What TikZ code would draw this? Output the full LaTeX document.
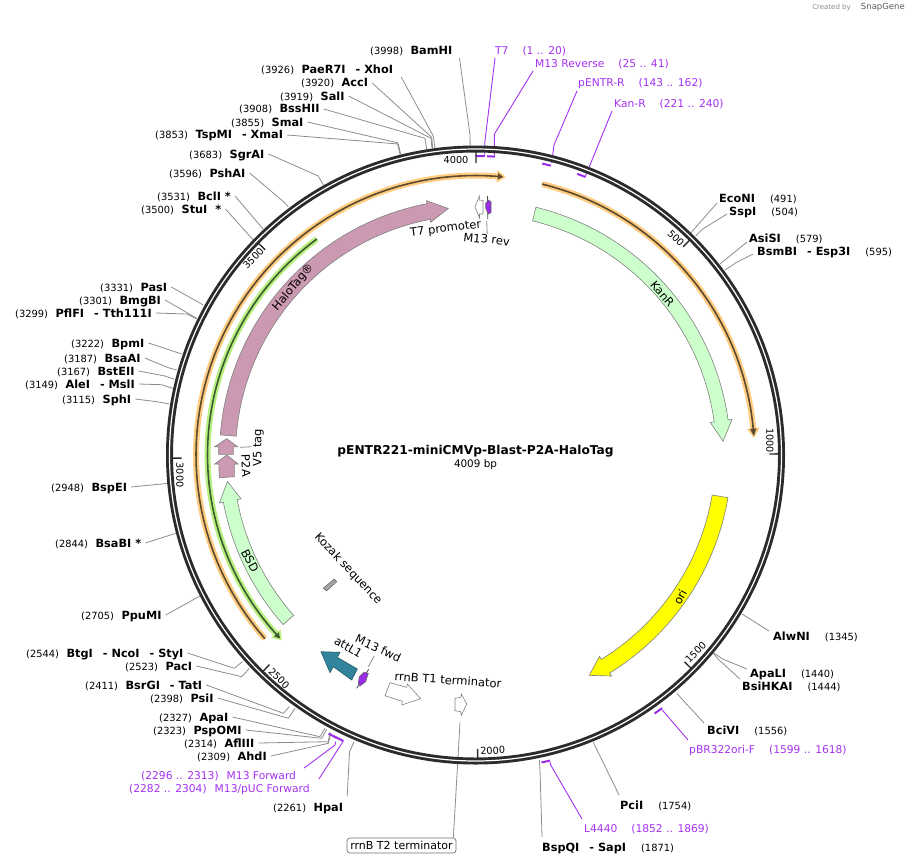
\documentclass[tikz,border=0pt]{standalone}
\usepackage{fontspec}
\setmainfont{DejaVu Sans}
\usetikzlibrary{calc}
\definecolor{ringc}{HTML}{2B2B2B}
\definecolor{cutc}{HTML}{8C8C8C}
\definecolor{primc}{HTML}{A531F2}
\definecolor{barc}{HTML}{9A2BE8}
\definecolor{kanc}{HTML}{CCFFCC}
\definecolor{haloc}{HTML}{CC99B2}
\definecolor{attc}{HTML}{31849B}
\definecolor{orangeh}{HTML}{FFCC80}
\definecolor{orangec}{HTML}{5A4A30}
\definecolor{greenh}{HTML}{B8F080}
\definecolor{greenc}{HTML}{3F5A30}
\definecolor{orifill}{HTML}{FFFF00}
\newcommand\cx{475.5}
\newcommand\cy{455}
\newcommand\rp[2]{({\cx+(#2)*sin(#1)},{\cy-(#2)*cos(#1)})}
\newcommand\pp[2]{\rp{(#1)*0.0898}{#2}}
\newcommand\bd[1]{{\fontsize{11.3}{12}\selectfont\bfseries #1}}
% style, start angle, head base angle, tip angle, mid radius, body half, head half
\newcommand\featarrow[7]{%
  \draw[#1] plot[domain=#2:#3,samples=60] ({\cx+(#5+#6)*sin(\x)},{\cy-(#5+#6)*cos(\x)})
    -- \rp{#3}{#5+#7} -- \rp{#4}{#5} -- \rp{#3}{#5-#7}
    -- plot[domain=#3:#2,samples=60] ({\cx+(#5-#6)*sin(\x)},{\cy-(#5-#6)*cos(\x)}) -- cycle;}
\newcommand\enzl[5]{\node[lab,anchor=west] (#1) at ({#2-4},#3) {(#4)\hspace{7.5pt}\bd{#5}};}
\newcommand\enzr[5]{\node[lab,anchor=west] (#1) at ({#2-4},#3) {\bd{#5}\hspace{15pt}(#4)};}
\newcommand\priml[5]{\node[plab,anchor=west] (#1) at ({#2-4},#3) {(#4)\hspace{8pt}#5};}
\newcommand\primr[5]{\node[plab,anchor=west] (#1) at ({#2-4},#3) {#5\hspace{14pt}(#4)};}
\newcommand\dsh[2]{#1\hspace{10pt}- #2}
\tikzset{
  lab/.style={inner xsep=4pt,inner ysep=0pt,text height=10pt,text depth=2pt,font=\fontsize{9.9}{12}\selectfont,text=black},
  plab/.style={inner xsep=4pt,inner ysep=0pt,text height=10pt,text depth=2pt,font=\fontsize{10.7}{12}\selectfont,text=primc},
  flab/.style={inner sep=0pt,font=\fontsize{11.5}{13}\selectfont,text=black},
  tlab/.style={inner sep=0pt,font=\fontsize{9.7}{12}\selectfont,text=black},
  cut/.style={draw=cutc,line width=0.8pt,line join=round},
  pcut/.style={draw=primc,line width=0.9pt,line join=round},
  pbar/.style={draw=barc,line width=2pt},
  tick/.style={draw=ringc,line width=1.4pt},
  feat/.style={draw=black!50,line width=0.6pt,line join=miter},
}
\begin{document}
\begin{tikzpicture}[x=1pt,y=-1pt]
\useasboundingbox (0,0) rectangle (909,864);
\coordinate (c) at (\cx,\cy);
\node[anchor=east,inner sep=0pt,font=\fontsize{7}{8}\selectfont,text=black!45] (credit) at (905,7) {Created by \hspace{8pt}\textcolor{black!65}{\fontsize{8.5}{8}\selectfont SnapGene}};

% ---- enzyme labels
\enzl{a3998}{370}{51}{3998}{BamHI}
\enzl{a3926}{261}{70}{3926}{\dsh{PaeR7I}{XhoI}}
\enzl{a3920}{301}{83}{3920}{AccI}
\enzl{a3919}{280}{96}{3919}{SalI}
\enzl{a3908}{239}{109}{3908}{BssHII}
\enzl{a3855}{231}{122}{3855}{SmaI}
\enzl{a3853}{155}{135}{3853}{\dsh{TspMI}{XmaI}}
\enzl{a3683}{189}{154}{3683}{SgrAI}
\enzl{a3596}{169}{173}{3596}{PshAI}
\enzl{a3531}{157}{196}{3531}{BclI *}
\enzl{a3500}{141}{209}{3500}{StuI\hspace{4pt} *}
\enzl{a3331}{100}{287}{3331}{PasI}
\enzl{a3301}{79}{300}{3301}{BmgBI}
\enzl{a3299}{15}{313}{3299}{\dsh{PflFI}{Tth111I}}
\enzl{a3222}{71}{343}{3222}{BpmI}
\enzl{a3187}{64}{358}{3187}{BsaAI}
\enzl{a3167}{57}{371}{3167}{BstEII}
\enzl{a3149}{25}{384}{3149}{\dsh{AleI}{MslI}}
\enzl{a3115}{62}{399}{3115}{SphI}
\enzl{a2948}{51}{487}{2948}{BspEI}
\enzl{a2844}{55}{543}{2844}{BsaBI *}
\enzl{a2705}{81}{615}{2705}{PpuMI}
\enzl{a2544}{26}{653}{2544}{\dsh{BtgI}{\dsh{NcoI}{StyI}}}
\enzl{a2523}{125}{666}{2523}{PacI}
\enzl{a2411}{85}{685}{2411}{\dsh{BsrGI}{TatI}}
\enzl{a2398}{150}{698}{2398}{PsiI}
\enzl{a2327}{159}{717}{2327}{ApaI}
\enzl{a2323}{153}{730}{2323}{PspOMI}
\enzl{a2314}{184}{743}{2314}{AflIII}
\enzl{a2309}{197}{756}{2309}{AhdI}
\enzl{a2261}{273}{807}{2261}{HpaI}
\enzr{b491}{719}{198}{491}{EcoNI}
\enzr{b504}{729}{211}{504}{SspI}
\enzr{b579}{749}{238}{579}{AsiSI}
\enzr{b595}{757}{251}{595}{\dsh{BsmBI}{Esp3I}}
\enzr{b1345}{773}{636}{1345}{AlwNI}
\enzr{b1440}{750}{673}{1440}{ApaLI}
\enzr{b1444}{742}{686}{1444}{BsiHKAI}
\enzr{b1556}{707}{730}{1556}{BciVI}
\enzr{b1754}{620}{805}{1754}{PciI}
\enzr{b1871}{542}{847}{1871}{\dsh{BspQI}{SapI}}
% ---- primer labels
\primr{p1}{495}{51}{1 .. 20}{T7}
\primr{p25}{535}{64}{25 .. 41}{M13 Reverse}
\primr{p143}{578}{83}{143 .. 162}{pENTR-R}
\primr{p221}{614}{104}{221 .. 240}{Kan-R}
\primr{p1599}{689}{749}{1599 .. 1618}{pBR322ori-F}
\primr{p1852}{584}{828}{1852 .. 1869}{L4440}
\priml{p2296}{141}{775}{2296 .. 2313}{M13 Forward}
\priml{p2282}{129}{788}{2282 .. 2304}{M13/pUC Forward}
% ---- boxed label
\node[draw=black!55,line width=0.7pt,rounded corners=3pt,fill=white,inner xsep=2pt,inner ysep=2pt,text height=9pt,text depth=2pt,minimum width=109pt,font=\fontsize{11}{12}\selectfont] (t2box) at (401.5,845.5) {rrnB T2 terminator};

% ---- primer connectors (pass under the ring)
\draw[pcut] ($(p1.west)+(4,7)$) -- (484.7,143.3) -- (484.7,155);
\draw[pcut] ($(p25.west)+(2,7)$) -- (494.3,134.3) -- (494.3,155.7);
\draw[pcut] ($(p143.west)+(3,8)$) -- (554,145) -- (551.7,163.3);
\draw[pcut] ($(p221.west)+(2,7)$) -- (585.5,176);
\draw[pcut] ($(p1599.west)+(3,-9)$) -- (662.3,710);
\draw[pcut] ($(p1852.west)+(2,-9)$) -- (550.7,765) -- (550,761.7);
\draw[pcut] ($(p2296.east)+(4,-7)$) -- (335,745) -- (335.7,741.7);
\draw[pcut] ($(p2282.east)+(5,-9)$) -- (343.3,741);
% ---- enzyme connectors
\draw[cut] ($(a3998.east)+(3,7)$) -- (470,135) -- \pp{3998}{307};
\draw[cut] ($(a3926.east)+(4,7)$) -- (433.3,136) -- (435,148);
\draw[cut] (a3920.east) -- (431.7,137.3) -- (432.7,148);
\draw[cut] (a3919.east) -- (431,138.3) -- (432,148);
\draw[cut] (a3908.east) -- (425,138.3) -- (426.7,149);
\draw[cut] (a3855.east) -- (397.3,142.7) -- (400,154.3);
\draw[cut] (a3853.east) -- (398.3,144) -- (400.7,154.3);
\draw[cut] (a3683.east) -- (318.3,176) -- (323.3,185);
\draw[cut] (a3596.east) -- (284.3,202.3) -- (288.3,206.7);
\draw[cut] (a3531.east) -- (263.3,229.3);
\draw[cut] (a3500.east) -- (253.3,240);
\draw[cut] (a3331.east) -- (203.3,305);
\draw[cut] (a3301.east) -- (196.7,318.3);
\draw[cut] (a3299.east) -- (186.7,314) -- (196.7,319);
\draw[cut] (a3222.east) -- (181.7,354);
\draw[cut] (a3187.east) -- (168.3,367.7) -- (176.7,370);
\draw[cut] (a3167.east) -- (165,376) -- (174.3,379.3);
\draw[cut] (a3149.east) -- (161.7,384.7) -- (172.7,388.3);
\draw[cut] (a3115.east) -- (156.7,401.7) -- (169.3,404);
\draw[cut] (a2948.east) -- \pp{2948}{308};
\draw[cut] (a2844.east) -- \pp{2844}{308};
\draw[cut] (a2705.east) -- \pp{2705}{308};
\draw[cut] (a2544.east) -- (234.3,668.3) -- (242.3,661.7);
\draw[cut] (a2523.east) -- (241.7,676.7) -- (249.3,668.3);
\draw[cut] (a2411.east) -- (283.3,713.3) -- (289.3,706.7);
\draw[cut] (a2398.east) -- (288.3,718.3) -- (295,708.3);
\draw[cut] (a2327.east) -- (320,736.7) -- (325,728.3);
\draw[cut] (a2323.east) -- (321.7,738.3) -- (326.7,729.3);
\draw[cut] (a2314.east) -- (328.3,741.7) -- (330,731.7);
\draw[cut] (a2309.east) -- (328.3,743.3) -- (331,733.3);
\draw[cut] ($(a2261.east)+(0,-11)$) -- (349.5,752) -- (354,741.7);
\draw[cut] ($(t2box.north east)+(-3,0)$) -- (460,722.7);
\draw[cut] ($(b491.west)+(2,5)$) -- (691,232.7);
\draw[cut] ($(b504.west)+(2,3)$) -- (702.3,229.3) -- (695.7,236);
\draw[cut] ($(b579.west)+(2,4)$) -- (720,264);
\draw[cut] ($(b595.west)+(0,3)$) -- (736.7,262.3) -- (725,270);
\draw[cut] ($(b1345.west)+(0,-5)$) -- (742,614);
\draw[cut] ($(b1440.west)+(1,-4)$) -- (723.3,659.3) -- (714,653.3);
\draw[cut] ($(b1444.west)+(2,-7)$) -- (718.3,659.3) -- (713.3,653.3);
\draw[cut] ($(b1556.west)+(1,-7)$) -- (676.7,693.3);
\draw[cut] ($(b1754.west)+(3,-10)$) -- (593.3,742.3);
\draw[cut] ($(b1871.west)+(4,-10)$) -- (540,770) -- (539.3,760);

% ---- primer bars
\draw[pbar] \rp{0}{299} -- \rp{1.8}{299};
\draw[pbar] \rp{2.2}{299} -- \rp{3.7}{299};
\draw[pbar] \rp{12.9}{299} -- \rp{14.6}{299};
\draw[pbar] \rp{19.9}{299} -- \rp{21.6}{299};
\draw[pbar] \rp{143.6}{314.5} -- \rp{145.3}{314.5};
\draw[pbar] \rp{166.3}{314.5} -- \rp{167.9}{314.5};
\draw[pbar] \rp{204.8}{315} -- \rp{206.8}{315};
\draw[pbar] \rp{206.2}{315} -- \rp{207.8}{315};

% ---- plasmid ring
\draw[ringc,line width=7pt] (c) circle[radius=306pt];
\draw[white,line width=1.2pt] (c) circle[radius=306pt];

% ---- ticks
\draw[tick] \rp{0.1}{292} -- \rp{0.1}{303};
\draw[tick] \pp{500}{294} -- \pp{500}{303};
\draw[tick] \pp{1000}{294} -- \pp{1000}{303};
\draw[tick] \pp{1500}{294} -- \pp{1500}{303};
\draw[tick] \pp{2000}{294} -- \pp{2000}{303};
\draw[tick] \pp{2500}{294} -- \pp{2500}{303};
\draw[tick] \pp{3000}{294} -- \pp{3000}{303};
\draw[tick] \pp{3500}{294} -- \pp{3500}{303};
\node[tlab] (t4000) at (456,160) {4000};
\node[tlab,rotate=-45] (t500) at (676,238.3) {500};
\node[tlab,rotate=-90] (t1000) at (770,440.7) {1000};
\node[tlab,rotate=45] (t1500) at (695.7,652.3) {1500};
\node[tlab,rotate=3] (t2000) at (492.7,750.7) {2000};
\node[tlab,rotate=-45] (t2500) at (279,678.3) {2500};
\node[tlab,rotate=-90] (t3000) at (180,475) {3000};
\node[tlab,rotate=45] (t3500) at (253.3,258.3) {3500};

% ---- thin arcs
\featarrow{fill=orangeh,draw=none}{228.9}{364.4}{366.2}{279.5}{3}{6.5}
\featarrow{fill=orangec,draw=none}{228.9}{364.6}{365.7}{279.5}{0.8}{3.2}
\featarrow{fill=orangeh,draw=none}{13.8}{84.5}{86.5}{279}{3}{6.5}
\featarrow{fill=orangec,draw=none}{13.8}{84.6}{86.1}{279}{0.8}{3.2}
\featarrow{fill=greenh,draw=none}{323.7}{228.2}{226.3}{268}{3}{6.5}
\featarrow{fill=greenc,draw=none}{323.7}{228}{226.8}{268}{0.8}{3.2}

% ---- large features
\featarrow{feat,fill=kanc}{13.7}{82.1}{86.8}{248}{7}{11}
\featarrow{feat,fill=kanc}{228.6}{259.4}{263.9}{249.5}{7}{11}
\featarrow{feat,fill=orifill}{99.6}{148.4}{152.7}{248}{8}{11.5}
\featarrow{feat,fill=haloc}{274.5}{349.1}{353.7}{248}{8}{11}
\draw[feat,fill=haloc] (226.7,438.7) -- (237.7,446.7) -- (233.3,446.7) -- (233.3,454.3) -- (218.7,454.3) -- (218.7,446.7) -- (214.7,446.7) -- cycle;
\draw[feat,fill=haloc] (226.7,455) -- (238,464) -- (234.3,464) -- (234.3,476.7) -- (219.3,477.7) -- (218.8,464) -- (214.7,464) -- cycle;
\draw[feat,fill=attc,draw=attc!70!black] (321,651.7) -- (340,652.3) -- (337.3,657.3) -- (357.3,669) -- (351.7,680) -- (333.3,666.7) -- (330,672.7) -- cycle;
\draw[feat,fill=white] (390,682.7) -- (406.7,687.3) -- (407.3,684) -- (420.7,698.7) -- (401.7,705) -- (402.3,701.3) -- (385,695.7) -- cycle;
\draw[feat,fill=white] (455,698.3) -- (460.7,697.3) -- (461.3,694) -- (466.7,704) -- (461.3,715.3) -- (460.7,711.7) -- (455,710.7) -- cycle;
\draw[feat,fill=white] (475,207) -- (479.3,196) -- (479.3,200) -- (483,200.5) -- (483,214) -- (479.5,214) -- (479.5,218) -- cycle;
\draw[greenc,line width=0.8pt] (487.5,196) -- (487.7,219);
\draw[black!60,line width=0.6pt,fill=barc] (485.7,203.3) -- (488.3,200) -- (491,201.7) -- (491,212.7) -- (488.3,214) -- (485.7,208.3) -- cycle;
\draw[black!70,line width=0.8pt] (356.7,688.3) -- (368.7,669.3);
\draw[black!60,line width=0.6pt,fill=barc] (359.3,676.7) -- (364,672.3) -- (368.3,673.3) -- (365.7,681.7) -- (360,686) -- (358.3,683.3) -- cycle;
\draw[black!60,line width=0.6pt,fill=black!35] (323.3,588.3) -- (326.7,590.7) -- (336.7,581.7) -- (334.3,579) -- cycle;

% ---- feature labels and their leaders
\node[flab,rotate=7] (lt7) at (445.7,229) {T7 promoter};
\node[flab,rotate=-6] (lm13r) at (486.7,239.3) {M13 rev};
\node[flab,rotate=-50] (lkan) at (662.3,294) {KanR};
\node[flab,rotate=50] (lhalo) at (293.3,287.3) {HaloTag®};
\node[flab,rotate=-62] (lbsd) at (250,560.7) {BSD};
\node[flab,rotate=90] (lv5) at (258.3,447.7) {V5 tag};
\node[flab,rotate=-88] (lp2a) at (246,465.7) {P2A};
\node[flab,rotate=62] (lori) at (680,597) {ori};
\node[flab,rotate=-47] (lkoz) at (348,569) {Kozak sequence};
\node[flab,rotate=-25] (lm13f) at (378.3,648.3) {M13 fwd};
\node[flab,rotate=-30] (latt) at (348.3,647.3) {attL1};
\node[flab,rotate=-4] (lt1) at (448,680) {rrnB T1 terminator};
\draw[cut] ($(lm13r.north)+(0,-1)$) -- (486.7,220.7);
\draw[cut] ($(lv5.north)+(-1,-1)$) -- (240,447.3);
\draw[cut] (374.3,655.7) -- (368.3,666.7);

% ---- centre
\node[inner sep=0pt,font=\fontsize{12.2}{14}\selectfont\bfseries] (title) at (475.5,451) {pENTR221-miniCMVp-Blast-P2A-HaloTag};
\node[inner sep=0pt,font=\fontsize{10.4}{12}\selectfont] (bp) at (475.5,465) {4009 bp};
\end{tikzpicture}
\end{document}
